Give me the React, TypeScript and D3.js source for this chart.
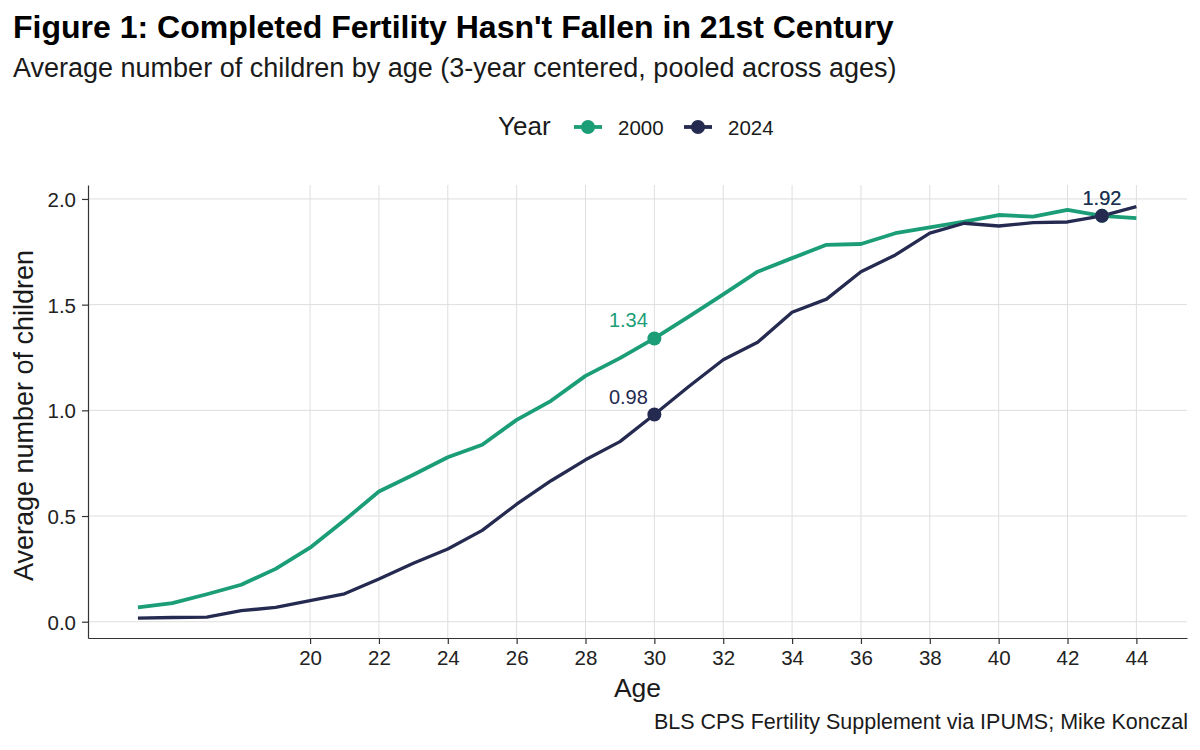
import * as d3 from 'd3';
import React, { useEffect } from 'react';

const ages = [15, 16, 17, 18, 19, 20, 21, 22, 23, 24, 25, 26, 27, 28, 29, 30, 31, 32, 33, 34, 35, 36, 37, 38, 39, 40, 41, 42, 43, 44];
const values2000 = [0.068, 0.088, 0.13, 0.175, 0.25, 0.35, 0.48, 0.616, 0.695, 0.778, 0.837, 0.955, 1.045, 1.163, 1.247, 1.34, 1.443, 1.549, 1.656, 1.72, 1.783, 1.787, 1.838, 1.866, 1.893, 1.924, 1.916, 1.948, 1.92, 1.909];
const values2024 = [0.017, 0.02, 0.022, 0.052, 0.068, 0.1, 0.132, 0.202, 0.277, 0.344, 0.432, 0.556, 0.667, 0.766, 0.852, 0.98, 1.113, 1.239, 1.322, 1.464, 1.526, 1.656, 1.735, 1.838, 1.885, 1.872, 1.888, 1.891, 1.92, 1.964];
const years = ['2000', '2024'];
const xTicks = [20, 22, 24, 26, 28, 30, 32, 34, 36, 38, 40, 42, 44];
const yTicks = [0, 0.5, 1, 1.5, 2];
// highlighted points: [year, age]
const highlights: [string, number][] = [['2000', 30], ['2024', 30], ['2000', 43], ['2024', 43]];

const colors: Record<string, string> = { '2000': '#1b9e77', '2024': '#252a50' };
const FONT = '"Liberation Sans", Arial, Helvetica, sans-serif';

export default function App() {
  const ref = React.useRef<HTMLDivElement>(null);

  useEffect(() => {
    if (!ref.current) return;
    ref.current.innerHTML = '';

    const W = 1200;
    const H = 750;
    const margin = { top: 185, right: 13, bottom: 112, left: 88 };
    const width = W - margin.left - margin.right;
    const height = H - margin.top - margin.bottom;

    const series: Record<string, number[]> = { '2000': values2000, '2024': values2024 };

    const x = d3.scaleLinear().domain([13.55, 45.47]).range([0, width]);
    const y = d3.scaleLinear().domain([-0.077, 2.066]).range([height, 0]);

    const svg = d3
      .select(ref.current)
      .append('svg')
      .attr('width', W)
      .attr('height', H)
      .style('position', 'absolute')
      .style('left', '0px')
      .style('top', '0px')
      .style('font-family', FONT)
      .style('background', '#fff');

    // titles
    svg.append('text').attr('x', 13).attr('y', 38).attr('font-size', 32).attr('font-weight', 'bold').attr('fill', '#000')
      .text("Figure 1: Completed Fertility Hasn't Fallen in 21st Century");
    svg.append('text').attr('x', 13).attr('y', 77).attr('font-size', 27).attr('fill', '#1a1a1a')
      .text('Average number of children by age (3-year centered, pooled across ages)');

    // legend
    const leg = svg.append('g').attr('transform', 'translate(0,127)');
    leg.append('text').attr('x', 498).attr('y', 8).attr('font-size', 26).attr('fill', '#1a1a1a').text('Year');
    years.forEach((yr, i) => {
      const lx = 574 + i * 110;
      leg.append('line').attr('x1', lx).attr('x2', lx + 28).attr('y1', 0).attr('y2', 0)
        .attr('stroke', colors[yr]).attr('stroke-width', 3.8);
      leg.append('circle').attr('cx', lx + 14).attr('cy', 0).attr('r', 7).attr('fill', colors[yr]);
      leg.append('text').attr('x', lx + 44).attr('y', 8).attr('font-size', 20.5).attr('fill', '#1a1a1a').text(yr);
    });

    const g = svg.append('g').attr('transform', `translate(${margin.left},${margin.top})`);

    // grid
    g.selectAll('.gy').data(yTicks).enter().append('line')
      .attr('x1', 0).attr('x2', width).attr('y1', d => y(d)).attr('y2', d => y(d))
      .attr('stroke', '#dedede').attr('stroke-width', 1);
    g.selectAll('.gx').data(xTicks).enter().append('line')
      .attr('y1', 0).attr('y2', height).attr('x1', d => x(d)).attr('x2', d => x(d))
      .attr('stroke', '#dedede').attr('stroke-width', 1);

    // axes
    const xAxis = g.append('g').attr('transform', `translate(0,${height})`)
      .call(d3.axisBottom(x).tickValues(xTicks).tickSize(6).tickPadding(6).tickSizeOuter(0));
    const yAxis = g.append('g')
      .call(d3.axisLeft(y).tickValues(yTicks).tickFormat(d3.format('.1f')).tickSize(6).tickPadding(6).tickSizeOuter(0));
    [xAxis, yAxis].forEach(ax => {
      ax.select('.domain').attr('stroke', '#333').attr('stroke-width', 1.2);
      ax.selectAll('.tick line').attr('stroke', '#333').attr('stroke-width', 1.2);
      ax.selectAll('.tick text').attr('font-size', 20.5).attr('fill', '#222').style('font-family', FONT);
    });
    yAxis.selectAll('.tick text').attr('dy', '0.36em');
    xAxis.selectAll('.tick text').attr('dy', '0.75em');

    svg.append('text').attr('x', margin.left + width / 2).attr('y', 697).attr('text-anchor', 'middle')
      .attr('font-size', 26.5).attr('fill', '#1a1a1a').text('Age');
    svg.append('text').attr('transform', `translate(33,${margin.top + height / 2 + 4}) rotate(-90)`)
      .attr('text-anchor', 'middle').attr('font-size', 27).attr('fill', '#1a1a1a').text('Average number of children');
    svg.append('text').attr('x', 1188).attr('y', 729).attr('text-anchor', 'end')
      .attr('font-size', 21.5).attr('fill', '#1a1a1a').text('BLS CPS Fertility Supplement via IPUMS; Mike Konczal');

    // lines
    const line = d3.line<number>().x((_, i) => x(ages[i])).y(d => y(d));
    years.forEach(yr => {
      g.append('path').datum(series[yr]).attr('d', line).attr('fill', 'none')
        .attr('stroke', colors[yr]).attr('stroke-width', yr === '2000' ? 3.8 : 3.3)
        .attr('stroke-linejoin', 'round');
    });

    // highlighted points + labels
    highlights.forEach(([yr, age]) => {
      const v = series[yr][ages.indexOf(age)];
      const cx = x(age);
      const cy = y(v);
      g.append('circle').attr('cx', cx).attr('cy', cy).attr('r', 7).attr('fill', colors[yr]);
      const late = age > 40;
      g.append('text')
        .attr('x', late ? cx : cx - 26)
        .attr('y', cy - 11)
        .attr('text-anchor', 'middle')
        .attr('font-size', 20)
        .attr('fill', colors[yr])
        .text(d3.format('.2f')(v));
    });
  }, []);

  return <div ref={ref}></div>;
}
